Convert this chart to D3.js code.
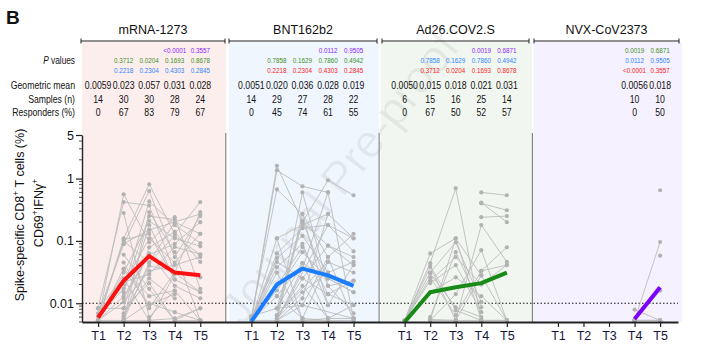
<!DOCTYPE html>
<html>
<head>
<meta charset="utf-8">
<script src="https://cdn.jsdelivr.net/npm/d3@7"></script>
<style>
  html, body { margin: 0; padding: 0; background: #fff; }
  svg { display: block; font-family: Arial, "Liberation Sans", sans-serif; }
</style>
</head>
<body>
<svg id="chart" width="711" height="349"></svg>
<script>
// ---------------- DATA ----------------
const panels = ["mRNA-1273", "BNT162b2", "Ad26.COV2.S", "NVX-CoV2373"];
const timepoints = ["T1", "T2", "T3", "T4", "T5"];
const yTicks = [0.01, 0.1, 1, 5];

const geoMean = [
  [0.0059, 0.023, 0.057, 0.031, 0.028],
  [0.0051, 0.020, 0.036, 0.028, 0.019],
  [0.0050, 0.015, 0.018, 0.021, 0.031],
  [null, null, null, 0.0056, 0.018]
];
const samples = [
  [14, 30, 30, 28, 24],
  [14, 29, 27, 28, 22],
  [6, 15, 16, 25, 14],
  [null, null, null, 10, 10]
];
const responders = [
  [0, 67, 83, 79, 67],
  [0, 45, 74, 61, 55],
  [0, 67, 50, 52, 57],
  [null, null, null, 0, 50]
];
// P values: three comparison rows per panel, each coloured by the compared vaccine
const pValues = [
  [["NVX-CoV2373", [null, null, null, "<0.0001", "0.3557"]],
   ["Ad26.COV2.S", [null, "0.3712", "0.0204", "0.1693", "0.8678"]],
   ["BNT162b2",    [null, "0.2218", "0.2304", "0.4303", "0.2845"]]],
  [["NVX-CoV2373", [null, null, null, "0.0112", "0.9505"]],
   ["Ad26.COV2.S", [null, "0.7858", "0.1629", "0.7860", "0.4942"]],
   ["mRNA-1273",   [null, "0.2218", "0.2304", "0.4303", "0.2845"]]],
  [["NVX-CoV2373", [null, null, null, "0.0019", "0.6871"]],
   ["BNT162b2",    [null, "0.7858", "0.1629", "0.7860", "0.4942"]],
   ["mRNA-1273",   [null, "0.3712", "0.0204", "0.1693", "0.8678"]]],
  [["Ad26.COV2.S", [null, null, null, "0.0019", "0.6871"]],
   ["BNT162b2",    [null, null, null, "0.0112", "0.9505"]],
   ["mRNA-1273",   [null, null, null, "<0.0001", "0.3557"]]]
];

// individual participants (T1..T5, null = not sampled)
const mrnaSubjects = [
  [0.0053, 0.56, 0.095, 0.24, 0.017],
  [0.0083, 0.42, 0.37, 0.031, 0.29],
  [0.0053, 0.11, 0.81, 0.13, 0.42],
  [0.0053, 0.10, 0.045, 0.2, 0.13],
  [0.0069, 0.088, 0.63, 0.055, 0.25],
  [0.0053, 0.036, 0.013, 0.016, 0.0053],
  [0.0053, 0.031, 0.21, 0.11, 0.082],
  [0.0083, 0.025, 0.0053, 0.0057, 0.0083],
  [0.0053, 0.022, 0.029, 0.08, 0.061],
  [0.0062, 0.017, 0.43, 0.18, 0.092],
  [0.0053, 0.013, 0.063, 0.019, 0.012],
  [0.0053, 0.0104, 0.033, 0.041, 0.055],
  [0.0083, 0.0083, 0.18, 0.024, 0.015],
  [0.0053, 0.0053, 0.010, 0.0072, 0.0053],
  [null, 0.0057, 0.079, 0.14, 0.046],
  [null, 0.0069, 0.025, 0.012, null],
  [null, 0.0053, 0.29, 0.066, 0.0053],
  [null, 0.105, 0.13, 0.024, null],
  [null, 0.045, 0.0083, 0.031, 0.015],
  [null, 0.06, 0.017, 0.0053, 0.0083],
  [null, 0.28, 0.006, 0.016, null],
  [null, 0.0053, 0.045, 0.12, 0.06],
  [null, 0.015, 0.25, 0.22, null],
  [null, 0.0083, 0.021, 0.0053, 0.0053],
  [null, 0.02, 0.11, 0.045, 0.13],
  [null, 0.0053, 0.0053, 0.029, null],
  [null, 0.012, 0.06, 0.09, 0.2],
  [null, 0.035, 0.0095, 0.014, null],
  [null, 0.0062, 0.04, null, 0.026],
  [null, 0.09, 0.15, null, 0.27]
];
const bntSubjects = [
  [0.0053, 1.6, 0.2, 0.94, 0.54],
  [0.0053, 1.36, 0.75, 0.6, null],
  [0.006, 0.67, 0.27, 0.055, 0.13],
  [0.0053, 0.11, 0.18, 0.27, 0.11],
  [0.0053, 0.063, 0.16, 0.18, 0.068],
  [0.0053, 0.053, 0.12, 0.031, 0.046],
  [0.0057, 0.046, 0.025, 0.084, 0.055],
  [0.0053, 0.038, 0.09, 0.0093, 0.041],
  [0.0053, 0.031, 0.0057, 0.046, 0.031],
  [0.0053, 0.019, 0.08, 0.014, 0.023],
  [0.0053, 0.016, 0.066, 0.025, 0.015],
  [0.0053, 0.013, 0.044, 0.0057, 0.0093],
  [0.0062, 0.0083, 0.21, 0.019, 0.0069],
  [0.0053, 0.0053, 0.036, 0.6, 0.0057],
  [null, 0.0064, 0.019, 0.0057, 0.0057],
  [null, 0.0057, 0.015, 0.031, null],
  [null, 0.0053, 0.012, 0.27, null],
  [null, 0.0083, 0.0093, 0.055, 0.0053],
  [null, 0.0053, 0.27, 0.0093, null],
  [null, 0.0057, 0.6, 0.019, 0.023],
  [null, 0.11, 0.0053, 0.0053, 0.0053],
  [null, 0.0064, 0.2, 0.084, 0.041],
  [null, 0.0053, 0.0053, 0.0057, null],
  [null, 0.0083, 0.044, 0.025, 0.015],
  [null, 0.0057, 0.025, 0.014, 0.0093],
  [null, 0.0053, null, 0.18, 0.11],
  [null, 0.0064, null, 0.046, null],
  [null, 0.013, 0.0057, 0.0053, null],
  [null, 0.0053, 0.0093, null, 0.0057]
];
const adSubjects = [
  [0.0053, 0.044, 0.7, 0.0053, null],
  [0.0053, 0.063, 0.11, 0.028, 0.0053],
  [0.0053, 0.038, 0.0053, 0.18, 0.046],
  [0.0053, 0.031, 0.095, 0.0104, null],
  [0.0053, 0.026, 0.0064, 0.033, 0.079],
  [0.0053, 0.023, 0.055, 0.02, 0.041],
  [null, 0.021, 0.041, 0.0072, null],
  [null, 0.015, 0.026, 0.013, 0.0053],
  [null, 0.006, 0.066, 0.0086, null],
  [null, 0.0053, 0.014, 0.071, 0.0053],
  [null, 0.03, 0.0086, 0.006, null],
  [null, 0.04, 0.0077, 0.0053, 0.0053],
  [null, 0.0053, 0.11, 0.0053, null],
  [null, 0.0053, 0.0053, 0.0053, 0.0053],
  [null, 0.0055, 0.0053, 0.028, null],
  [null, null, 0.0053, null, null],
  [null, null, null, 0.6, 0.54],
  [null, null, null, 0.4, 0.31],
  [null, null, null, 0.41, 0.2],
  [null, null, null, 0.24, 0.25],
  [null, null, null, 0.0053, null],
  [null, null, null, 0.02, null],
  [null, null, null, 0.0053, null],
  [null, null, null, 0.033, 0.041],
  [null, null, null, 0.0104, null],
  [null, null, null, 0.0053, 0.0053]
];
const nvxSubjects = [
  [null, null, null, 0.0079, 0.0053],
  [null, null, null, 0.0053, 0.096],
  [null, null, null, 0.0053, 0.0053],
  [null, null, null, 0.0053, 0.0053],
  [null, null, null, 0.0053, 0.0053],
  [null, null, null, 0.0053, 0.016],
  [null, null, null, null, 0.058],
  [null, null, null, 0.0053, 0.0053],
  [null, null, null, null, 0.65],
  [null, null, null, 0.0053, 0.016],
  [null, null, null, 0.0053, null],
  [null, null, null, 0.0053, null]
];
const subjects = [mrnaSubjects, bntSubjects, adSubjects, nvxSubjects];

// ---------------- STYLE ----------------
const vaccineColor = {
  "mRNA-1273": "#ff1010",
  "BNT162b2": "#1a7cff",
  "Ad26.COV2.S": "#178a17",
  "NVX-CoV2373": "#7d00ff"
};
const pColor = {
  "mRNA-1273": "#ff1a1a",
  "BNT162b2": "#2d86ff",
  "Ad26.COV2.S": "#3d8f1f",
  "NVX-CoV2373": "#8a1cff"
};
const bgColor = ["#fdeeee", "#f0f6fe", "#f1f7f0", "#f6f1fe"];
const HSCALE = 0.83; // header text is horizontally condensed in the reference

const svg = d3.select("#chart");
const slot = (p, t) => p * 6 + t;

const x = d3.scaleLinear().domain([-0.63, 22.7]).range([82, 678]);
const y = d3.scaleLog().domain([0.005, 5]).range([322, 135]);

// panel backgrounds
const bgExtent = [[82, 226], [229, 379], [380.5, 532], [533.5, 682]];
svg.append("g").selectAll("rect").data(panels).join("rect")
  .attr("x", (d, i) => bgExtent[i][0])
  .attr("width", (d, i) => bgExtent[i][1] - bgExtent[i][0])
  .attr("y", 42).attr("height", 322 - 42)
  .attr("fill", (d, i) => bgColor[i]);

// watermark
svg.append("text")
  .attr("transform", "translate(342,180) rotate(-52)")
  .attr("text-anchor", "middle").attr("dominant-baseline", "middle")
  .attr("font-size", 46).attr("fill", "#000").attr("fill-opacity", 0.06)
  .text("Journal Pre-proof");

// panel dividers
svg.append("g").selectAll("line").data([5, 11, 17]).join("line")
  .attr("x1", d => x(d)).attr("x2", d => x(d))
  .attr("y1", 133).attr("y2", 322)
  .attr("stroke", "#6f6f6f").attr("stroke-width", 1);

// "B"
svg.append("text").attr("x", 6).attr("y", 24)
  .attr("font-size", 19).attr("font-weight", "bold").attr("fill", "#111").text("B");

// panel titles and brackets
const bracket = [[81, 225], [229, 377], [382, 529], [534, 679]];
panels.forEach((name, i) => {
  const [a, b] = bracket[i];
  const g = svg.append("g");
  g.append("text").attr("x", (a + b) / 2).attr("y", 34)
    .attr("text-anchor", "middle").attr("font-size", 12.5).attr("fill", "#111").text(name);
  g.append("line").attr("x1", a).attr("x2", b).attr("y1", 41).attr("y2", 41)
    .attr("stroke", "#222").attr("stroke-width", 1.2);
  [a, b].forEach(e => g.append("line").attr("x1", e).attr("x2", e).attr("y1", 38.5).attr("y2", 43.5)
    .attr("stroke", "#222").attr("stroke-width", 1));
});

// helper for condensed text
function ctext(g, cx, cy, str, size, anchor, fill) {
  const t = g.append("text")
    .attr("transform", `translate(${cx},${cy}) scale(${HSCALE},1)`)
    .attr("text-anchor", anchor).attr("font-size", size).attr("fill", fill || "#111");
  if (str != null) t.text(str);
  return t;
}

// row labels
const labelX = 75;
const lg = svg.append("g");
const pl = ctext(lg, labelX, 63.5, null, 10, "end");
pl.append("tspan").attr("font-style", "italic").text("P");
pl.append("tspan").text(" values");
const rowY = { gm: 89, n: 102.5, r: 115.5 };
[["Geometric mean", rowY.gm], ["Samples (n)", rowY.n], ["Responders (%)", rowY.r]].forEach(([t, yy]) => {
  ctext(lg, labelX, yy, t, 10.5, "end");
});

const fmtGM = d3.format(".2r");
panels.forEach((name, p) => {
  const g = svg.append("g");
  timepoints.forEach((tp, t) => {
    const cx = x(slot(p, t));
    if (geoMean[p][t] != null) ctext(g, cx, rowY.gm, fmtGM(geoMean[p][t]), 10.5, "middle");
    if (samples[p][t] != null) ctext(g, cx, rowY.n, samples[p][t], 10.5, "middle");
    if (responders[p][t] != null) ctext(g, cx, rowY.r, responders[p][t], 10.5, "middle");
  });
  pValues[p].forEach(([vs, vals], r) => {
    vals.forEach((v, t) => {
      if (v == null) return;
      ctext(g, x(slot(p, t)), 53 + r * 10, v, 7.6, "middle", pColor[vs]);
    });
  });
});

// y axis
const yAxis = svg.append("g").attr("transform", "translate(82,0)")
  .call(d3.axisLeft(y).tickValues(yTicks).tickFormat(d => d).tickSize(6).tickSizeOuter(0));
yAxis.select(".domain").attr("stroke", "#222").attr("stroke-width", 1.4);
yAxis.selectAll(".tick line").attr("stroke", "#222").attr("stroke-width", 1.2);
yAxis.selectAll(".tick text").attr("font-size", 12.5).attr("fill", "#111")
  .attr("font-family", "Arial, 'Liberation Sans', sans-serif").attr("x", -8);
// minor ticks
const minor = [];
[0.001, 0.01, 0.1, 1].forEach(dec => { for (let k = 2; k <= 9; k++) { const v = dec * k; if (v >= 0.005 && v <= 5 && !yTicks.includes(+v.toFixed(6))) minor.push(v); } });
svg.append("g").selectAll("line").data(minor).join("line")
  .attr("x1", 79).attr("x2", 82).attr("y1", d => y(d)).attr("y2", d => y(d))
  .attr("stroke", "#222").attr("stroke-width", 0.8);

// y title
const yt = svg.append("g").attr("font-size", 12.5).attr("fill", "#111").attr("text-anchor", "middle");
const t1 = yt.append("text").attr("transform", "translate(24,215) rotate(-90)");
t1.append("tspan").text("Spike-specific CD8");
t1.append("tspan").attr("dy", -5).attr("font-size", 8.5).text("+");
t1.append("tspan").attr("dy", 5).text(" T cells (%)");
const t2 = yt.append("text").attr("transform", "translate(43,213) rotate(-90)");
t2.append("tspan").text("CD69");
t2.append("tspan").attr("dy", -5).attr("font-size", 8.5).text("+");
t2.append("tspan").attr("dy", 5).text("IFN\u03b3");
t2.append("tspan").attr("dy", -5).attr("font-size", 8.5).text("+");

// threshold line
svg.append("line").attr("x1", 82).attr("x2", 678).attr("y1", y(0.01)).attr("y2", y(0.01))
  .attr("stroke", "#111").attr("stroke-width", 1).attr("stroke-dasharray", "1.5,2");

// individual trajectories
const plot = svg.append("g");
subjects.forEach((list, p) => {
  list.forEach(vals => {
    const seq = vals.map((v, t) => [t, v]).filter(d => d[1] != null);
    const line = d3.line().x(d => x(slot(p, d[0]))).y(d => y(d[1]));
    plot.append("path").attr("d", line(seq)).attr("fill", "none")
      .attr("stroke", "#bcbcbc").attr("stroke-width", 0.9);
    plot.selectAll(null).data(seq).join("circle")
      .attr("cx", d => x(slot(p, d[0]))).attr("cy", d => y(d[1])).attr("r", 2.1)
      .attr("fill", "#b2b2b2");
  });
});

// geometric mean lines
panels.forEach((name, p) => {
  const seq = geoMean[p].map((v, t) => [t, v]).filter(d => d[1] != null);
  svg.append("path")
    .attr("d", d3.line().x(d => x(slot(p, d[0]))).y(d => y(d[1]))(seq))
    .attr("fill", "none").attr("stroke", vaccineColor[name]).attr("stroke-width", 4)
    .attr("stroke-linejoin", "round");
});

// x axis
const slots = [];
panels.forEach((n, p) => timepoints.forEach((tp, t) => slots.push(slot(p, t))));
const xAxis = svg.append("g").attr("transform", "translate(0,322)")
  .call(d3.axisBottom(x).tickValues(slots).tickFormat(d => timepoints[d % 6]).tickSize(5).tickSizeOuter(0));
xAxis.select(".domain").attr("stroke", "#222").attr("stroke-width", 1.8);
xAxis.selectAll(".tick line").attr("stroke", "#222").attr("stroke-width", 1.2);
xAxis.selectAll(".tick text").attr("font-size", 12.5).attr("fill", "#14143a")
  .attr("font-family", "Arial, 'Liberation Sans', sans-serif").attr("y", 9);
</script>
</body>
</html>
